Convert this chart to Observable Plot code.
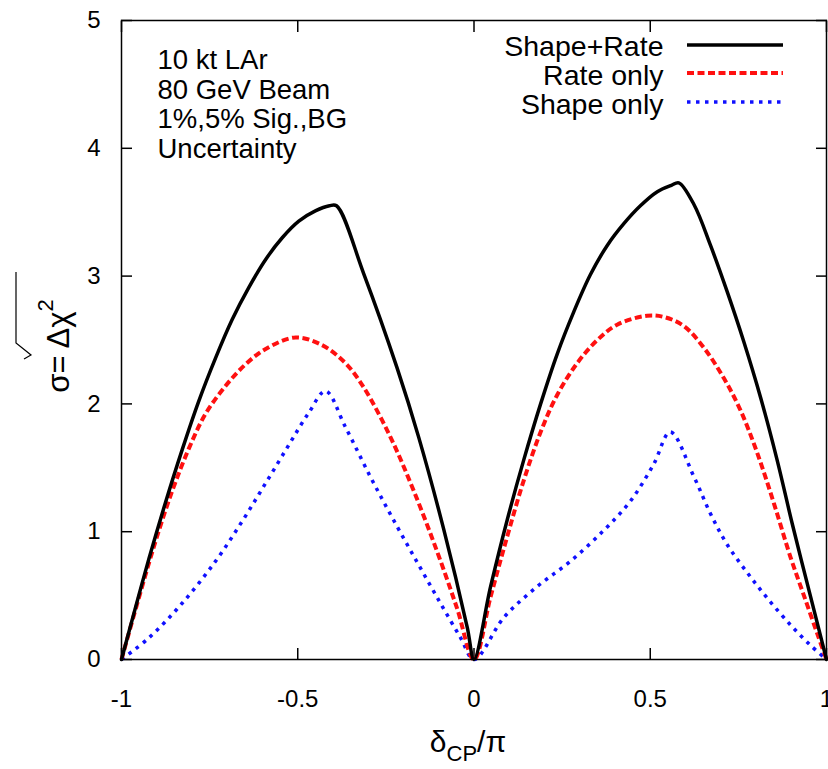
<!DOCTYPE html>
<html>
<head>
<meta charset="utf-8">
<script src="https://cdn.jsdelivr.net/npm/d3@7"></script>
<script src="https://cdn.jsdelivr.net/npm/@observablehq/plot@0.6"></script>
<style>
  html, body { margin: 0; padding: 0; background: white; }
  #chart { width: 828px; height: 769px; overflow: hidden; }
</style>
</head>
<body>
<div id="chart"></div>
<script>
// ---- data ----
const xBlack = [-1, -0.960, -0.922, -0.875, -0.828, -0.781, -0.733, -0.686, -0.639, -0.591, -0.544, -0.497, -0.450, -0.410, -0.390, -0.313, -0.218, -0.157, -0.086, -0.019, 0, 0.047, 0.094, 0.141, 0.189, 0.236, 0.283, 0.330, 0.378, 0.425, 0.472, 0.520, 0.560, 0.581, 0.624, 0.671, 0.718, 0.765, 0.813, 0.860, 0.903, 0.955, 1];
const yBlack = [0, 0.41, 0.79, 1.23, 1.64, 2.02, 2.36, 2.66, 2.91, 3.13, 3.30, 3.43, 3.51, 3.55, 3.55, 3.02, 2.28, 1.74, 1.02, 0.25, 0, 0.57, 1.09, 1.56, 2.00, 2.39, 2.72, 3.01, 3.24, 3.41, 3.55, 3.66, 3.71, 3.73, 3.56, 3.24, 2.88, 2.49, 2.05, 1.56, 1.06, 0.49, 0];

const xRed = [-1, -0.951, -0.904, -0.856, -0.809, -0.762, -0.705, -0.648, -0.591, -0.506, -0.431, -0.365, -0.313, -0.237, -0.171, -0.104, -0.048, 0, 0.047, 0.094, 0.141, 0.189, 0.236, 0.293, 0.350, 0.406, 0.491, 0.539, 0.595, 0.652, 0.709, 0.756, 0.803, 0.851, 0.898, 0.936, 0.974, 1];
const yRed = [0, 0.48, 0.92, 1.32, 1.65, 1.92, 2.14, 2.31, 2.43, 2.52, 2.46, 2.32, 2.13, 1.74, 1.32, 0.84, 0.40, 0, 0.49, 0.96, 1.40, 1.78, 2.07, 2.32, 2.50, 2.62, 2.69, 2.68, 2.61, 2.44, 2.20, 1.95, 1.62, 1.22, 0.80, 0.50, 0.20, 0];

const xBlue = [-1, -0.922, -0.828, -0.733, -0.658, -0.591, -0.525, -0.469, -0.421, -0.365, -0.294, -0.228, -0.161, -0.095, -0.038, 0, 0.085, 0.179, 0.274, 0.368, 0.444, 0.510, 0.557, 0.624, 0.671, 0.718, 0.775, 0.832, 0.898, 0.955, 1];
const yBlue = [0, 0.17, 0.44, 0.77, 1.08, 1.38, 1.68, 1.93, 2.10, 1.82, 1.43, 1.09, 0.76, 0.44, 0.17, 0, 0.33, 0.57, 0.77, 1.01, 1.24, 1.53, 1.78, 1.43, 1.14, 0.90, 0.68, 0.48, 0.27, 0.11, 0];

const seriesNames = ["Shape+Rate", "Rate only", "Shape only"];
const xTicks = [-1, -0.5, 0, 0.5, 1];
const xTickLabels = ["-1", "-0.5", "0", "0.5", "1"];
const yTicks = [0, 1, 2, 3, 4, 5];
const yTickLabels = ["0", "1", "2", "3", "4", "5"];
const annotationLines = ["10 kt LAr", "80 GeV Beam", "1%,5% Sig.,BG", "Uncertainty"];

// ---- build tables ----
const toRows = (xs, ys) => xs.map((x, i) => ({x, y: ys[i]}));
const black = toRows(xBlack, yBlack);
const red = toRows(xRed, yRed);
const blue = toRows(xBlue, yBlue);

const font = "'Liberation Sans', Arial, Helvetica, sans-serif";
const xFmt = d => xTickLabels[xTicks.indexOf(d)];
const yFmt = d => yTickLabels[yTicks.indexOf(d)];
const blackStyle = {stroke: "black", strokeWidth: 3.5, dash: null};
const redStyle = {stroke: "#ff1010", strokeWidth: 4, dash: "7,3.5"};
const blueStyle = {stroke: "#1010ff", strokeWidth: 3.5, dash: "3.5,5.5"};

const chart = Plot.plot({
  width: 828,
  height: 769,
  marginLeft: 121,
  marginRight: 2,
  marginTop: 20,
  marginBottom: 110,
  style: {fontFamily: font, fontSize: "24px", background: "white", color: "black", overflow: "visible"},
  x: {domain: [-1, 1]},
  y: {domain: [0, 5]},
  marks: [
    // inward tick marks on all four sides
    Plot.axisX(xTicks, {anchor: "bottom", tickSize: -11, tickFormat: () => "", label: null, strokeWidth: 1.5}),
    Plot.axisX(xTicks, {anchor: "top", tickSize: -11, tickFormat: () => "", label: null, strokeWidth: 1.5}),
    Plot.axisY(yTicks, {anchor: "left", tickSize: -11, tickFormat: () => "", label: null, strokeWidth: 1.5}),
    Plot.axisY(yTicks, {anchor: "right", tickSize: -11, tickFormat: () => "", label: null, strokeWidth: 1.5}),
    // tick labels
    Plot.axisX(xTicks, {anchor: "bottom", tickSize: 0, tickPadding: 30, tickFormat: xFmt, label: null, fontSize: 24}),
    Plot.axisY(yTicks, {anchor: "left", tickSize: 0, tickPadding: 21, tickFormat: yFmt, label: null, fontSize: 24}),
    // curves
    Plot.line(blue, {x: "x", y: "y", curve: "catmull-rom", stroke: blueStyle.stroke, strokeWidth: blueStyle.strokeWidth, strokeDasharray: blueStyle.dash, strokeLinecap: "butt"}),
    Plot.line(red, {x: "x", y: "y", curve: "catmull-rom", stroke: redStyle.stroke, strokeWidth: redStyle.strokeWidth, strokeDasharray: redStyle.dash, strokeLinecap: "butt"}),
    Plot.line(black, {x: "x", y: "y", curve: "catmull-rom", stroke: blackStyle.stroke, strokeWidth: blackStyle.strokeWidth}),
    Plot.frame({stroke: "black", strokeWidth: 1.5}),
    // annotation
    Plot.text([annotationLines.join("\n")], {frameAnchor: "top-left", dx: 36, dy: 28, lineAnchor: "top", textAnchor: "start", fontSize: 27.5, lineHeight: 1.07, fill: "black"}),
    // legend text
    Plot.text([seriesNames.join("\n")], {frameAnchor: "top-right", dx: -163, dy: 15, lineAnchor: "top", textAnchor: "end", fontSize: 28.5, lineHeight: 1.02, fill: "black"})
  ]
});

const svg = d3.select(chart);
// legend samples
const legendY = [45, 73, 102];
[blackStyle, redStyle, blueStyle].forEach((s, i) => {
  svg.append("line")
    .attr("x1", 687).attr("x2", 783)
    .attr("y1", legendY[i]).attr("y2", legendY[i])
    .attr("stroke", s.stroke).attr("stroke-width", s.strokeWidth)
    .attr("stroke-dasharray", s.dash);
});

// x axis label: δ_CP/π
const xl = svg.append("text")
  .attr("x", 468).attr("y", 752)
  .attr("text-anchor", "middle")
  .attr("font-family", font).attr("font-size", 30).attr("fill", "black");
xl.append("tspan").text("δ");
xl.append("tspan").attr("dy", 9).attr("font-size", 22).text("CP");
xl.append("tspan").attr("dy", -9).text("/π");

// y axis label: σ= √(Δχ²)
const yl = svg.append("g").attr("transform", "translate(69,346) rotate(-90)");
const yt = yl.append("text")
  .attr("x", 0).attr("y", 0)
  .attr("text-anchor", "middle")
  .attr("font-family", font).attr("font-size", 31).attr("fill", "black");
yt.append("tspan").text("σ= ");
yt.append("tspan").text("Δχ");
yt.append("tspan").attr("dy", -16).attr("font-size", 22).text("2");
// radical sign drawn above Δχ²
yl.append("path")
  .attr("d", "M -13,-45 L -9,-38 L 3,-53 L 74,-53")
  .attr("fill", "none").attr("stroke", "black").attr("stroke-width", 1.2);

document.getElementById("chart").appendChild(chart);
</script>
</body>
</html>
